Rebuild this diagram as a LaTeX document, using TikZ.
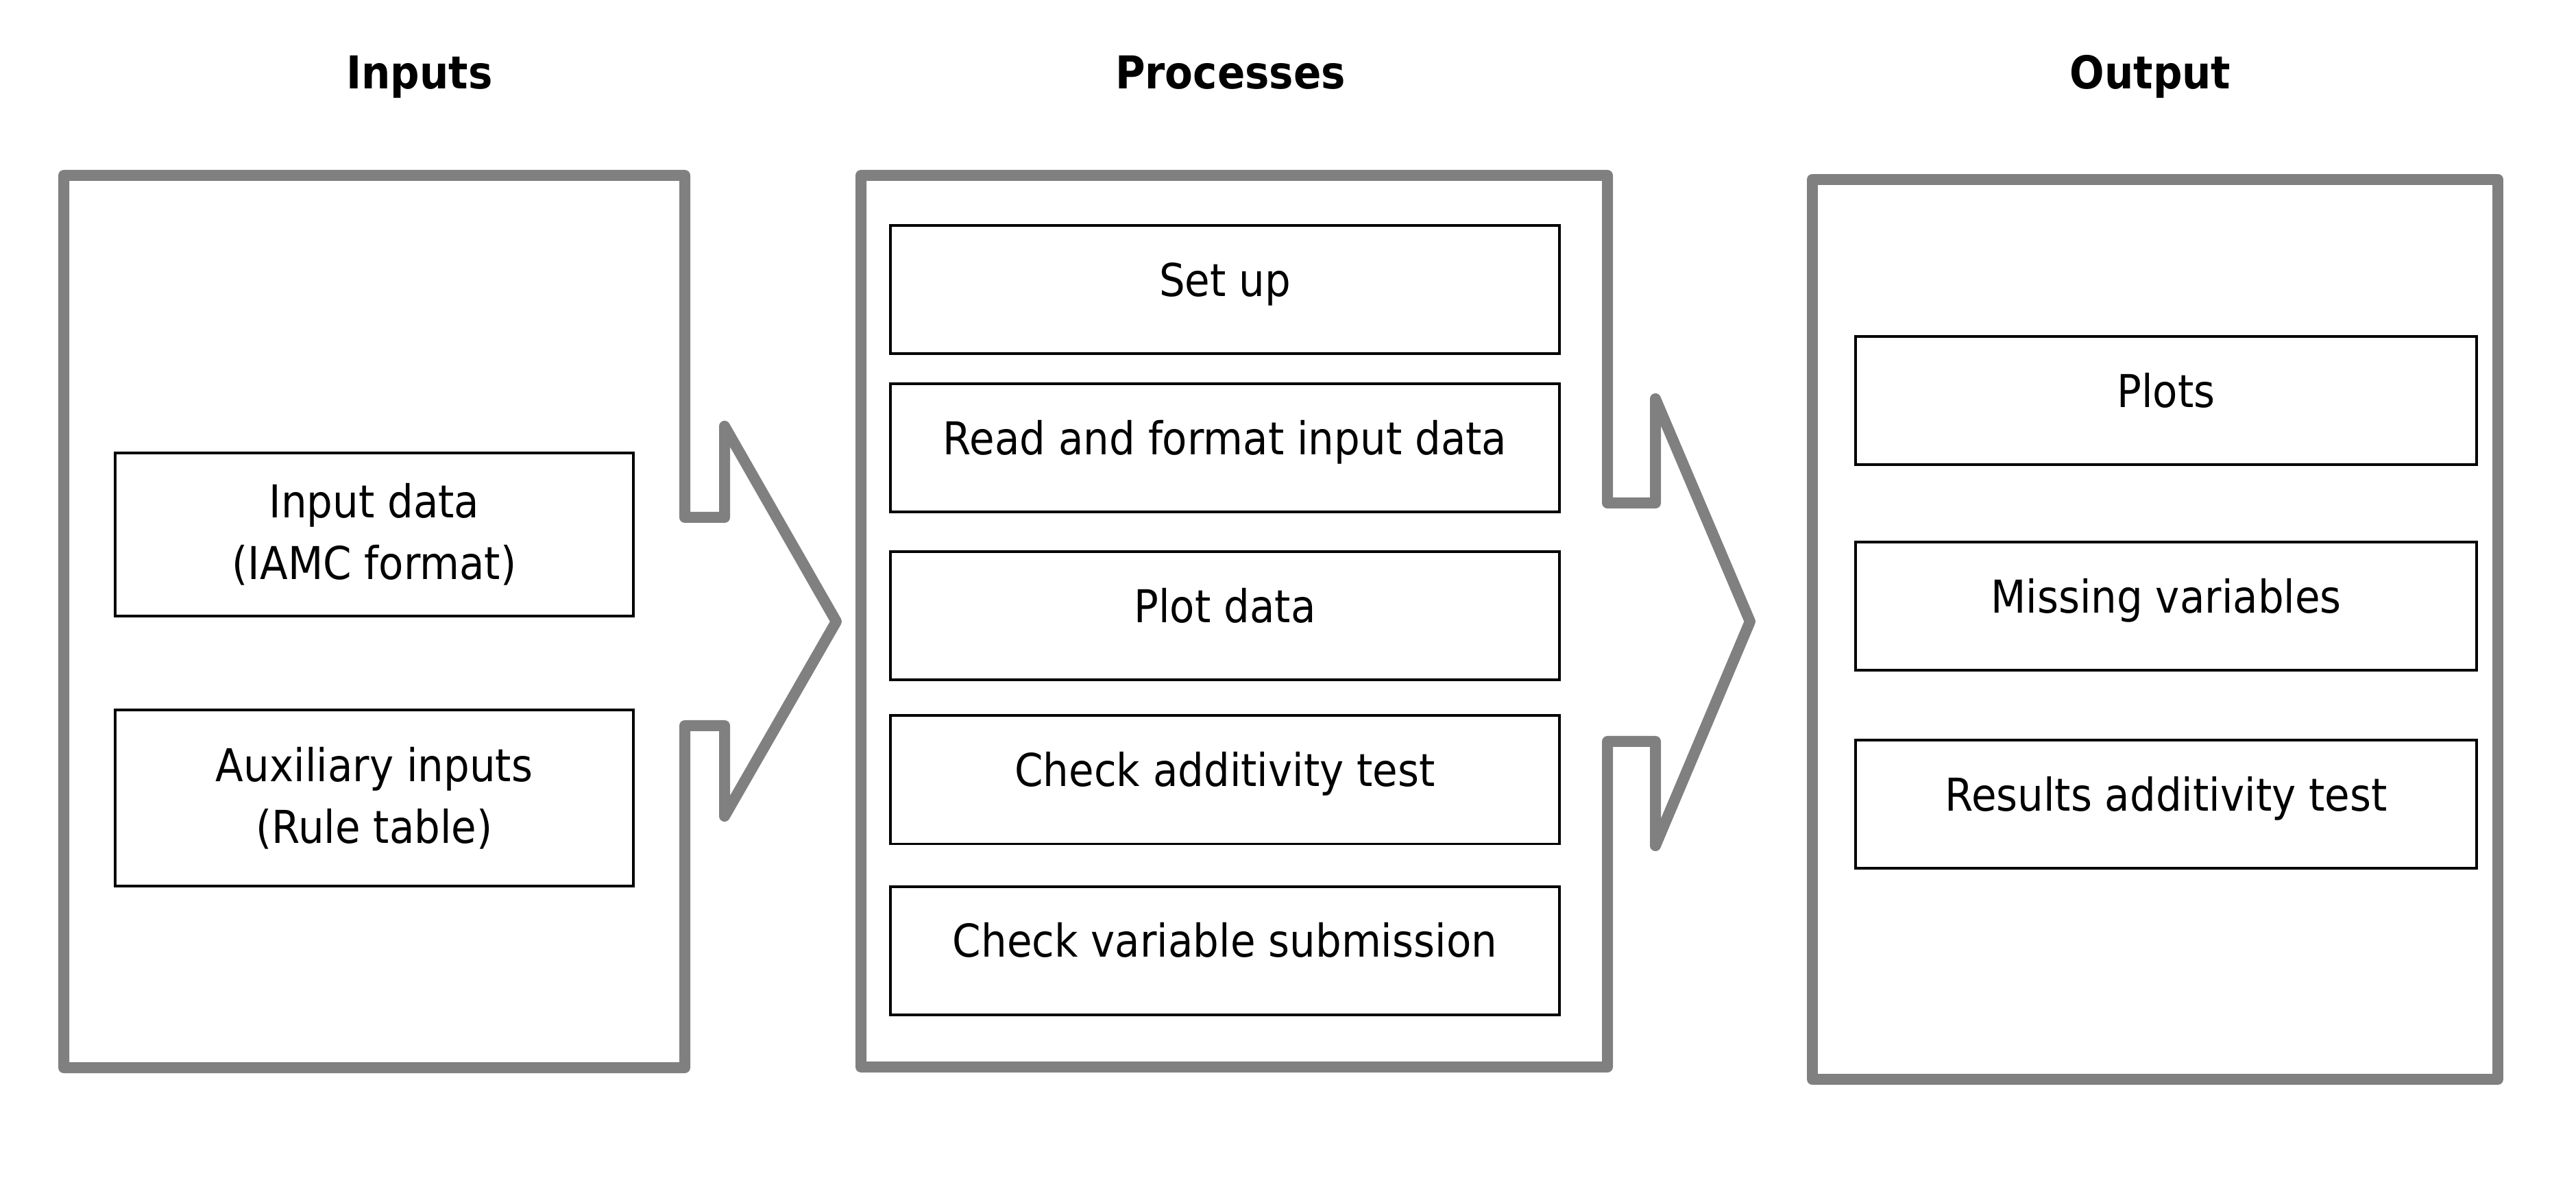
\documentclass[tikz,border=0pt]{standalone}
\usepackage{fontspec}
\setmainfont{DejaVu Sans}[FakeStretch=0.9]
\usetikzlibrary{positioning}

\begin{document}
\begin{tikzpicture}[
    node distance=0.5cm,
    every node/.style={font=\fontsize{18.8}{25.5}\selectfont},
    stage/.style ={draw=gray, line width=0.16cm, line join=round, fill=white},
    task/.style  ={rectangle, draw=black, line width=0.04cm, fill=white, outer sep=0pt,
                   align=center, inner sep=0pt, minimum height=1.87cm},
    single/.style={text height=0.50cm, text depth=0.30cm},
    intask/.style={task, minimum width=7.56cm},
    ptask/.style ={task, single, minimum width=9.76cm},
    otask/.style ={task, single, minimum width=9.06cm},
    head/.style  ={font=\fontsize{18.8}{24.5}\selectfont\bfseries, anchor=base},
]
\useasboundingbox (0,0) rectangle (37.58,17.37);

% ── Stage outlines (box + notched arrow) ─────────────────────
\draw[stage] (0.93,14.81) -- (9.99,14.81) -- (9.99,9.82) -- (10.57,9.82)
    -- (10.57,11.15) -- (12.20,8.30) -- (10.57,5.46) -- (10.57,6.78)
    -- (9.99,6.78) -- (9.99,1.79) -- (0.93,1.79) -- cycle;
\draw[stage] (12.56,14.81) -- (23.45,14.81) -- (23.45,10.03) -- (24.15,10.03)
    -- (24.15,11.55) -- (25.53,8.30) -- (24.15,5.03) -- (24.15,6.55)
    -- (23.45,6.55) -- (23.45,1.80) -- (12.56,1.80) -- cycle;
\draw[stage] (26.44,14.75) rectangle (36.44,1.62);

% ── Headers ──────────────────────────────────────────────────
\node[head] (hin)   at (6.12,16.07)  {Inputs};
\node[head] (hproc) at (17.95,16.07) {Processes};
\node[head] (hout)  at (31.37,16.07) {Output};

% ── Inputs ───────────────────────────────────────────────────
\node[intask, minimum height=2.38cm] at (5.46,9.57) (indata) {Input data\\(IAMC format)};
\node[intask, minimum height=2.57cm, below=1.37cm of indata] (aux) {Auxiliary inputs\\(Rule table)};

% ── Processes ────────────────────────────────────────────────
\node[ptask] at (17.87,13.14)          (setup) {Set up};
\node[ptask, below=0.44cm of setup]    (read)  {Read and format input data};
\node[ptask, below=0.58cm of read]     (plot)  {Plot data};
\node[ptask, below=0.52cm of plot]     (add)   {Check additivity test};
\node[ptask, below=0.62cm of add]      (vars)  {Check variable submission};

% ── Output ───────────────────────────────────────────────────
\node[otask] at (31.60,11.525)         (plots)   {Plots};
\node[otask, below=1.13cm of plots]    (missing) {Missing variables};
\node[otask, below=1.02cm of missing]  (results) {Results additivity test};

\end{tikzpicture}
\end{document}
